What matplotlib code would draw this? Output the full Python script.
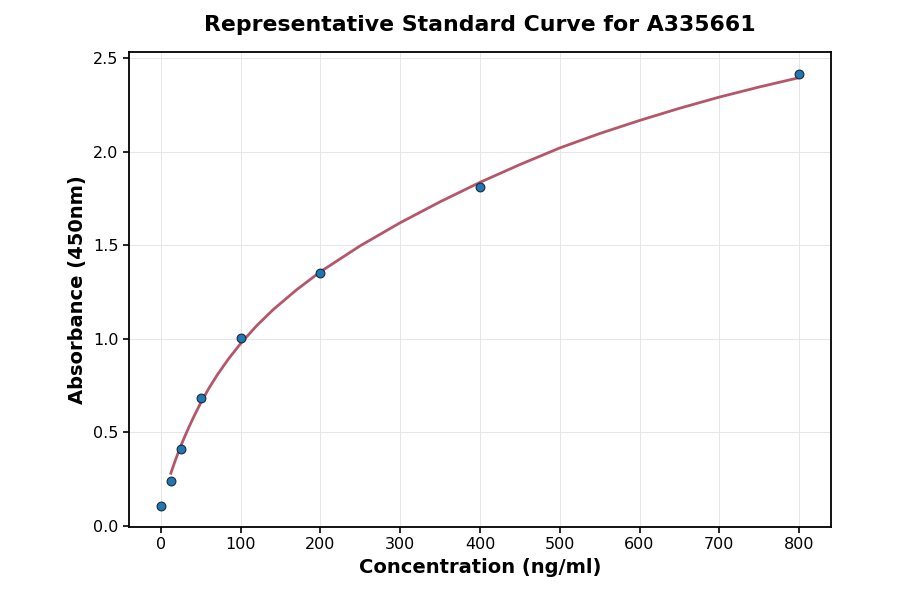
import matplotlib
matplotlib.use("Agg")
import matplotlib.pyplot as plt

# standard points
conc = [0, 12.5, 25, 50, 100, 200, 400, 800]
absorb = [0.103, 0.238, 0.407, 0.683, 1.005, 1.352, 1.813, 2.415]

# fitted curve
fit_x = [12.5, 15, 17.7, 21, 25, 30, 35.4, 42, 50, 60, 70.7, 85, 100, 120,
         141, 170, 200, 250, 300, 350, 400, 450, 500, 550, 600, 650, 700,
         750, 800]
fit_y = [0.28, 0.311, 0.344, 0.382, 0.426, 0.477, 0.529, 0.589, 0.657,
         0.733, 0.806, 0.893, 0.974, 1.069, 1.156, 1.261, 1.358, 1.497,
         1.62, 1.732, 1.836, 1.931, 2.02, 2.097, 2.167, 2.232, 2.292,
         2.346, 2.396]

fig = plt.figure(figsize=(9, 5.94), dpi=100)
ax = fig.add_axes([0.1433, 0.1133, 0.7800, 0.7997])

ax.plot(fit_x, fit_y, color="#b5566a", linewidth=2, zorder=2,
        solid_joinstyle="round")
ax.scatter(conc, absorb, s=40, color="#1f77b4", edgecolors="#1a2a3a",
           linewidths=0.8, zorder=3)

ax.set_xlim(-40, 840)
ax.set_ylim(-0.006, 2.535)
ax.set_xticks(range(0, 801, 100))
ax.set_yticks([0.0, 0.5, 1.0, 1.5, 2.0, 2.5])
ax.grid(True, color="#e6e6e6", linewidth=0.7)
ax.set_axisbelow(True)

for s in ax.spines.values():
    s.set_linewidth(1.3)
ax.tick_params(labelsize=11.5, width=1.2, length=4)

ax.set_xlabel("Concentration (ng/ml)", fontsize=14, fontweight="bold")
ax.set_ylabel("Absorbance (450nm)", fontsize=14, fontweight="bold")
ax.set_title("Representative Standard Curve for A335661", fontsize=15.8,
             fontweight="bold", pad=15)

fig.savefig("out.png", dpi=100)
